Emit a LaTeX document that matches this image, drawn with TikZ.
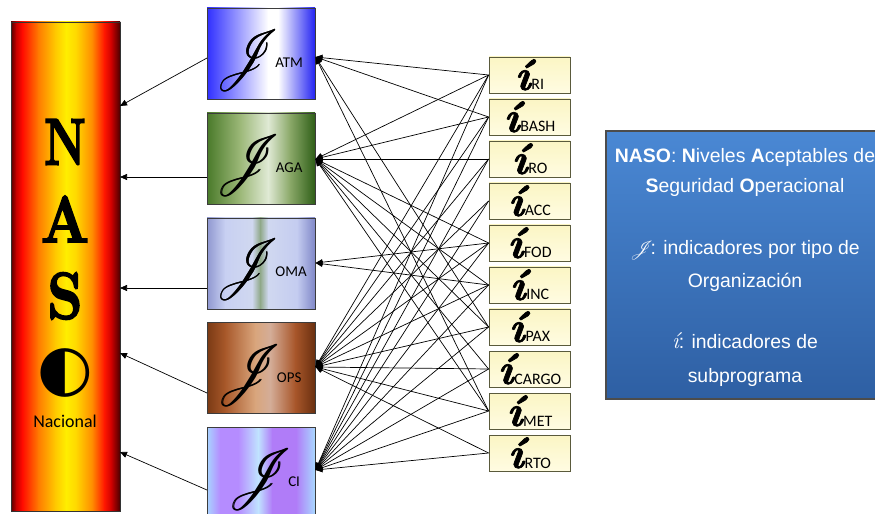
\documentclass[tikz,border=0pt]{standalone}
\usepackage{fontspec}
\usepackage{mathrsfs}
\usetikzlibrary{arrows.meta}
\setmainfont{Carlito}
\newfontfamily\legendfont{Liberation Sans}
\newfontfamily\lmserif{Latin Modern Roman}
\newfontfamily\heavyserif[FakeBold=3]{Latin Modern Roman}
\newfontfamily\iserif[FakeBold=1.6]{Latin Modern Roman}
\newfontfamily\shapesfont{DejaVu Sans}

% one vertical colour band of a horizontally graded fill (colours as hex)
\newcommand\band[6]{%
  \definecolor{bandL}{HTML}{#5}\definecolor{bandR}{HTML}{#6}%
  \shade[left color=bandL,right color=bandR] (#1,#3) rectangle (#2,#4);}

% script J, drawn twice with a small offset for a heavier stroke
\newcommand\bigJ{\scalebox{5.3}[6.2]{\makebox[0pt][l]{$\mathscr{J}$}\kern0.12bp$\mathscr{J}$}}
% organisation indicator: script J with a subscript
\newcommand\jsym[1]{\bigJ\kern-6bp\raisebox{6bp}{\fontsize{15}{15}\selectfont #1}}
% subprogram indicator: heavy italic i with a subscript
\newcommand\isym[1]{{\iserif\bfseries\itshape\fontsize{44}{44}\selectfont í}\kern1bp{\fontsize{16}{16}\selectfont #1}}

\definecolor{boxline}{HTML}{3C3C3C}
\definecolor{iboxline}{HTML}{5A5A3C}
\definecolor{itop}{HTML}{FBF5C4}
\definecolor{ibottom}{HTML}{FFFCE2}
\definecolor{legtop}{HTML}{4A88D4}
\definecolor{legbottom}{HTML}{2E5FA3}

\tikzset{
  jbox/.style={draw=boxline, line width=0.8bp, minimum width=108bp, minimum height=91bp, inner sep=0pt},
  ibox/.style={draw=iboxline, line width=0.8bp, top color=itop, bottom color=ibottom,
               minimum width=81bp, minimum height=36bp, inner sep=0pt},
  conn/.style={line width=0.7bp, -{Triangle[length=7bp,width=6bp]}},
  tonational/.style={line width=0.7bp, -{Triangle[length=7bp,width=6bp]}},
  legendtxt/.style={anchor=base, text=white, font=\legendfont\fontsize{19.5}{19.5}\selectfont, inner sep=0pt},
  nasoletter/.style={font=\heavyserif\bfseries\fontsize{66}{66}\selectfont, inner sep=0pt},
  jlabel/.style={anchor=base, inner sep=0pt},
}

\begin{document}
\begin{tikzpicture}[x=1bp,y=-1bp]
\useasboundingbox (0,0) rectangle (875,514);
\clip (0,0) rectangle (875,514);

% ---------- national bar ----------
\band{11}{16.3}{22}{511}{5A0000}{C80000}
\band{16}{22.3}{22}{511}{C80000}{FF0A00}
\band{22}{38.3}{22}{511}{FF0A00}{FF7A00}
\band{38}{55.3}{22}{511}{FF7A00}{FFC800}
\band{55}{66.3}{22}{511}{FFC800}{FFEE00}
\band{66}{76.3}{22}{511}{FFEE00}{FFD800}
\band{76}{92.3}{22}{511}{FFD800}{FF8C00}
\band{92}{104.3}{22}{511}{FF8C00}{FF1800}
\band{104}{111.3}{22}{511}{FF1800}{D00000}
\band{111}{120}{22}{511}{D00000}{4A0000}
\node[draw=black!80, line width=0.6bp, minimum width=109bp, minimum height=489bp, inner sep=0pt] (naso) at (65.5,266.5) {};
\node[nasoletter] (lN) at (65,142) {\scalebox{0.72}[1]{N}};
\node[nasoletter] (lA) at (65,219) {\scalebox{0.86}[1]{A}};
\node[nasoletter] (lS) at (65,296) {\scalebox{0.85}[1]{S}};
\node[font=\shapesfont\fontsize{64}{64}\selectfont, inner sep=0pt] (lO) at (65,373) {◐};
\node[font=\fontsize{18}{18}\selectfont, inner sep=0pt] (nac) at (65,421) {Nacional};

% ---------- organisation boxes ----------
% ATM
\band{207}{268.3}{8}{99}{3030FF}{FFFFFF}
\band{268}{278.3}{8}{99}{FFFFFF}{FFFFFF}
\band{278}{315}{8}{99}{FFFFFF}{2424F2}
\node[jbox] (jATM) at (261,53.5) {};
% AGA
\band{207}{240.3}{113}{204}{4A7A2A}{9CB878}
\band{240}{268.3}{113}{204}{9CB878}{E0EAD5}
\band{268}{290.3}{113}{204}{E0EAD5}{8AA868}
\band{290}{315}{113}{204}{8AA868}{2F5F18}
\node[jbox] (jAGA) at (261,158.5) {};
% OMA
\band{207}{225.3}{218}{309}{9098D0}{C8D0F2}
\band{225}{252.3}{218}{309}{C8D0F2}{D0D8F0}
\band{252}{260.3}{218}{309}{D0D8F0}{8FA888}
\band{260}{268.3}{218}{309}{8FA888}{D0D8F0}
\band{268}{297.3}{218}{309}{D0D8F0}{C4CCF0}
\band{297}{315}{218}{309}{C4CCF0}{8088C8}
\node[jbox] (jOMA) at (261,263.5) {};
% OPS
\band{207}{225.3}{322}{413}{7A3A14}{A8582A}
\band{225}{255.3}{322}{413}{A8582A}{D9A57C}
\band{255}{270.3}{322}{413}{D9A57C}{D4AD98}
\band{270}{295.3}{322}{413}{D4AD98}{A8562A}
\band{295}{315}{322}{413}{A8562A}{6A3010}
\node[jbox] (jOPS) at (261,367.5) {};
% CI
\band{207}{220.3}{427}{518}{A8D4FF}{B58CFF}
\band{220}{238.3}{427}{518}{B58CFF}{B58CFF}
\band{238}{258.3}{427}{518}{B58CFF}{C0E4FF}
\band{258}{272.3}{427}{518}{C0E4FF}{B07CF8}
\band{272}{296.3}{427}{518}{B07CF8}{B07CF8}
\band{296}{315}{427}{518}{B07CF8}{A8D8FF}
\node[jbox] (jCI) at (261,472.5) {};

\node[jlabel] (tATM) at (259,74)  {\jsym{ATM}};
\node[jlabel] (tAGA) at (259,179) {\jsym{AGA}};
\node[jlabel] (tOMA) at (261,283) {\jsym{OMA}};
\node[jlabel] (tOPS) at (259,388) {\jsym{OPS}};
\node[jlabel] (tCI)  at (264,492) {\jsym{CI}};

% arrow entry points on the organisation boxes
\coordinate (inATM) at (315.5,57);
\coordinate (inAGA) at (315.5,159);
\coordinate (inOMA) at (315.5,263);
\coordinate (inOPS) at (315.5,367);
\coordinate (inCI)  at (315.5,470);

% ---------- subprogram boxes ----------
\foreach \nm/\yy in {RI/75, BASH/117, RO/159, ACC/201, FOD/243, INC/285, PAX/327, CARGO/369, MET/411, RTO/453}{
  \node[ibox] (i\nm) at (529.5,\yy) {};
  \node[anchor=base, inner sep=0pt] (ti\nm) at (529.5,\yy+15) {\isym{\nm}};
}

% ---------- organisation boxes feed the national level ----------
\coordinate (oATM) at (207,58);   \coordinate (nATM) at (120,106);
\coordinate (oAGA) at (207,177);  \coordinate (nAGA) at (120,177);
\coordinate (oOMA) at (207,288);  \coordinate (nOMA) at (120,288);
\coordinate (oOPS) at (207,393);  \coordinate (nOPS) at (120,353);
\coordinate (oCI)  at (207,490);  \coordinate (nCI)  at (120,452);
\foreach \org in {ATM, AGA, OMA, OPS, CI}{\draw[tonational] (o\org) -- (n\org);}

% ---------- subprogram indicators feed the organisation indicators ----------
\foreach \s in {RI, BASH, PAX, MET}{\draw[conn] (i\s.west) -- (inATM);}
\foreach \s in {RI, BASH, RO, FOD, INC, PAX, CARGO, MET}{\draw[conn] (i\s.west) -- (inAGA);}
\foreach \s in {FOD, INC}{\draw[conn] (i\s.west) -- (inOMA);}
\foreach \s in {RI, BASH, RO, ACC, FOD, INC, PAX, CARGO, MET, RTO}{\draw[conn] (i\s.west) -- (inOPS);}
\foreach \s in {RI, BASH, RO, ACC, FOD, INC, PAX, CARGO, MET, RTO}{\draw[conn] (i\s.west) -- (inCI);}

% ---------- legend ----------
\node[draw=black!70, line width=2bp, top color=legtop, bottom color=legbottom,
      minimum width=282bp, minimum height=268bp, inner sep=0pt] (legend) at (747,265) {};
\node[legendtxt] (lg1) at (745,163) {\bfseries NASO\mdseries: \bfseries N\mdseries iveles \bfseries A\mdseries ceptables de};
\node[legendtxt] (lg2) at (745,193) {\bfseries S\mdseries eguridad \bfseries O\mdseries peracional};
\node[legendtxt] (lg3) at (745,255) {{\fontsize{10}{10}\selectfont\scalebox{1.9}{$\mathscr{J}$}}\kern-3bp: indicadores por tipo de};
\node[legendtxt] (lg4) at (745,288) {Organización};
\node[legendtxt] (lg5) at (745,349) {{\lmserif\itshape\fontsize{23}{23}\selectfont í}: indicadores de};
\node[legendtxt] (lg6) at (745,382) {subprograma};
\end{tikzpicture}
\end{document}
